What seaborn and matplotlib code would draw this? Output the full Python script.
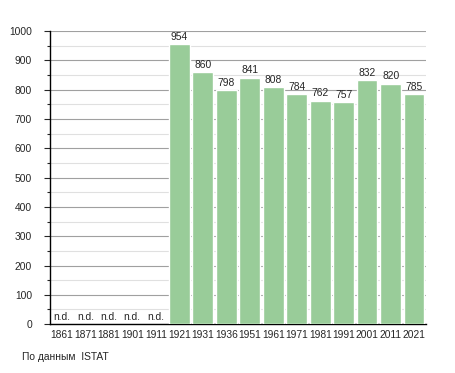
import numpy as np
import pandas as pd
import seaborn as sns
import matplotlib.pyplot as plt
from matplotlib.ticker import MultipleLocator

years = ['1861', '1871', '1881', '1901', '1911', '1921', '1931', '1936',
         '1951', '1961', '1971', '1981', '1991', '2001', '2011', '2021']
population = [np.nan, np.nan, np.nan, np.nan, np.nan, 954, 860, 798,
              841, 808, 784, 762, 757, 832, 820, 785]

df = pd.DataFrame({'year': years, 'pop': population})

sns.set_style('white')
plt.rcParams['font.family'] = ['Liberation Sans', 'DejaVu Sans']
fs = 7.4

fig = plt.figure(figsize=(4.55, 3.73), dpi=100)
ax = fig.add_axes([0.11, 0.131, 0.826, 0.786])

sns.barplot(data=df, x='year', y='pop', color='#99cc99', saturation=1,
            width=0.88, ax=ax, zorder=3)

ax.set_ylim(0, 1000)
ax.set_xlim(-0.5, len(years) - 0.5)
ax.yaxis.set_major_locator(MultipleLocator(100))
ax.yaxis.set_minor_locator(MultipleLocator(50))
ax.grid(axis='y', which='major', color='#a0a0a0', linewidth=0.8, zorder=0)
ax.grid(axis='y', which='minor', color='#e0e0e0', linewidth=0.8, zorder=0)
ax.set_axisbelow(True)

for s in ['top', 'right']:
    ax.spines[s].set_visible(False)
for s in ['left', 'bottom']:
    ax.spines[s].set_color('black')
    ax.spines[s].set_linewidth(1)

ax.tick_params(axis='y', which='major', left=True, length=4, width=0.8,
               labelsize=fs, pad=9)
ax.tick_params(axis='y', which='minor', left=True, length=2, width=0.8)
ax.tick_params(axis='x', bottom=False, labelsize=fs, pad=1)
ax.set_xlabel('')
ax.set_ylabel('')

for i, v in enumerate(population):
    if np.isnan(v):
        ax.text(i, 8, 'n.d.', ha='center', va='bottom', fontsize=fs)
    else:
        ax.text(i, v + 8, f'{int(v)}', ha='center', va='bottom', fontsize=fs)

fig.text(22 / 455, 1 - 357 / 373, 'По данным  ISTAT', fontsize=fs,
         ha='left', va='center')

fig.savefig('out.png', dpi=100)
